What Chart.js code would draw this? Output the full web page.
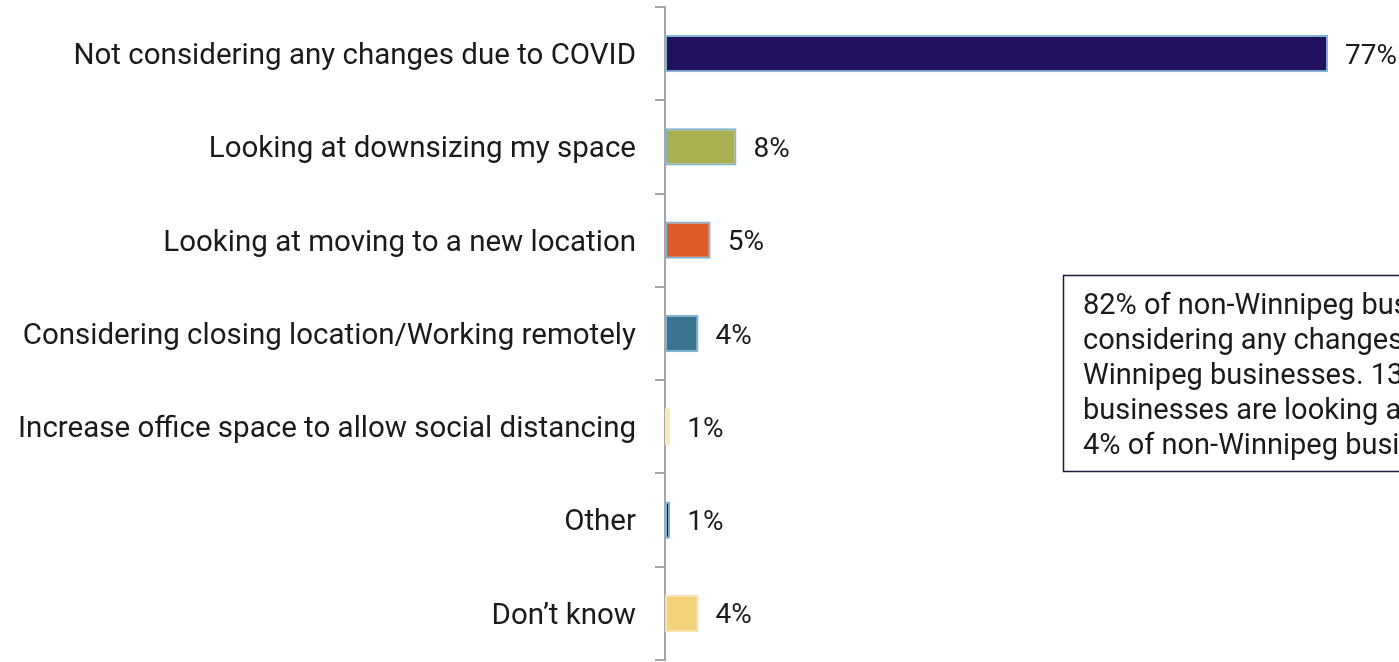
<!DOCTYPE html>
<html>
<head>
<meta charset="utf-8">
<script src="https://cdn.jsdelivr.net/npm/chart.js@4"></script>
<style>
  body { margin: 0; background: #fff; }
  #wrap { width: 1399px; height: 662px; position: relative; }
</style>
</head>
<body>
<div id="wrap"><canvas id="barChart"></canvas></div>
<script>
// Response categories (top to bottom)
const categories = [
    'Not considering any changes due to COVID',
    'Looking at downsizing my space',
    'Looking at moving to a new location',
    'Considering closing location/Working remotely',
    'Increase office space to allow social distancing',
    'Other',
    'Don\u2019t know'
];
// Share of respondents (%)
const values = [77, 8.3, 5.3, 3.9, 0.6, 0.6, 3.9];
const valueLabels = ['77%', '8%', '5%', '4%', '1%', '1%', '4%'];

const barColors = ['#21115e', '#a9b153', '#e05a2b', '#3c7390', '#f8e2a8', '#21115e', '#f2d17a'];
const barBorders = ['#7fb6d6', '#7fb6d6', '#7fb6d6', '#7fb6d6', '#fbe9bc', '#7fb6d6', '#f8e3ae'];

const noteLines = [
    '82% of non-Winnipeg businesses are not',
    'considering any changes due to COVID vs. 75% of',
    'Winnipeg businesses. 13% of Winnipeg',
    'businesses are looking at downsizing compared to',
    '4% of non-Winnipeg businesses.'
];

const FONT = 'Roboto, "Open Sans", sans-serif';

// value labels at the end of each bar
const valueLabelPlugin = {
    id: 'valueLabels',
    afterDatasetsDraw(chart) {
        const ctx = chart.ctx;
        const meta = chart.getDatasetMeta(0);
        ctx.save();
        ctx.font = '28px ' + FONT;
        ctx.fillStyle = '#1a1a1a';
        ctx.textBaseline = 'middle';
        meta.data.forEach((bar, i) => {
            ctx.fillText(valueLabels[i], bar.x + 17, bar.y + 3);
        });
        ctx.restore();
    }
};

// boxed note on the right
const notePlugin = {
    id: 'noteBox',
    afterDraw(chart) {
        const ctx = chart.ctx;
        ctx.save();
        ctx.strokeStyle = '#1c1a3d';
        ctx.lineWidth = 1.5;
        ctx.strokeRect(1063.5, 275.5, 420, 196);
        ctx.font = '29px ' + FONT;
        ctx.fillStyle = '#1a1a1a';
        ctx.textBaseline = 'middle';
        noteLines.forEach((line, i) => {
            ctx.fillText(line, 1083, 307 + i * 35);
        });
        ctx.restore();
    }
};

const ctx = document.getElementById('barChart').getContext('2d');
new Chart(ctx, {
    type: 'bar',
    data: {
        labels: categories,
        datasets: [{
            data: values,
            backgroundColor: barColors,
            borderColor: barBorders,
            borderWidth: 2,
            borderSkipped: false,
            categoryPercentage: 1,
            barPercentage: 0.4
        }]
    },
    options: {
        indexAxis: 'y',
        responsive: true,
        maintainAspectRatio: false,
        animation: false,
        layout: { padding: { top: 7, bottom: 2, right: 2, left: 0 } },
        plugins: {
            legend: { display: false },
            tooltip: { enabled: false }
        },
        scales: {
            x: {
                display: false,
                min: 0,
                max: 85
            },
            y: {
                afterFit(scale) {
                    scale.width = 665;
                    scale.paddingTop = 0;
                    scale.paddingBottom = 0;
                },
                grid: {
                    display: true,
                    drawOnChartArea: false,
                    drawTicks: true,
                    tickLength: 10,
                    color: '#a6a6a6',
                    lineWidth: 2
                },
                border: { display: true, color: '#a6a6a6', width: 2 },
                ticks: {
                    padding: 19,
                    labelOffset: 3,
                    color: '#1a1a1a',
                    font: { family: FONT, size: 29.5 }
                }
            }
        }
    },
    plugins: [valueLabelPlugin, notePlugin]
});
</script>
</body>
</html>
